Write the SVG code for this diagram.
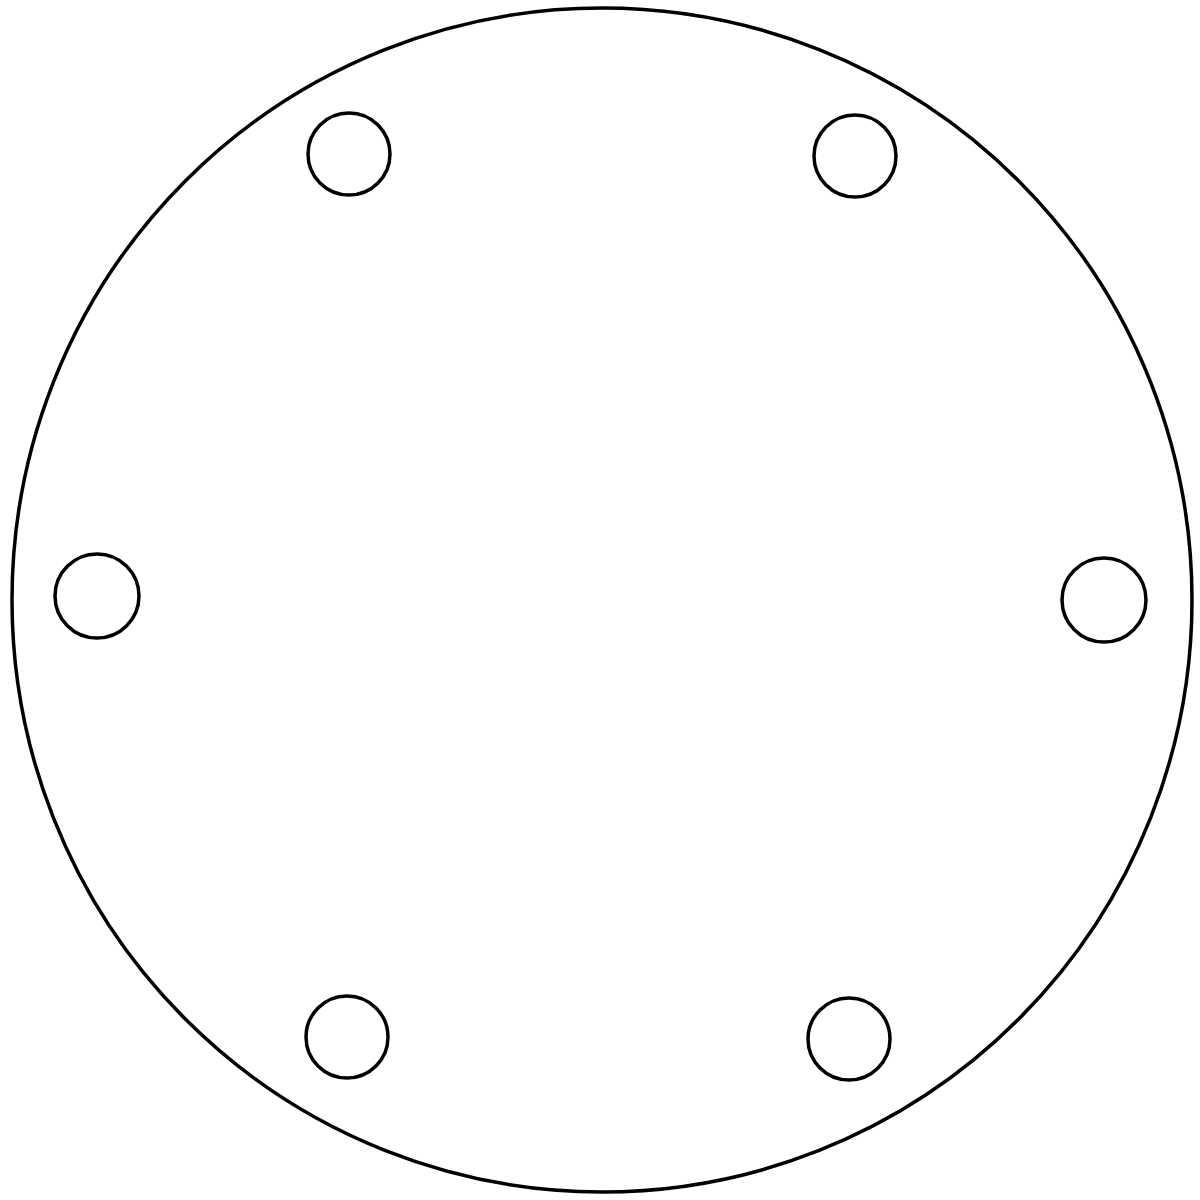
<svg xmlns="http://www.w3.org/2000/svg" width="1200" height="1200" viewBox="0 0 1200 1200">
<style>
.o{fill:none;stroke:#000;stroke-width:3.5}
.h{fill:none;stroke:#000;stroke-width:3.5}
</style>
<rect width="1200" height="1200" fill="#fff"/>
<g id="plate"><ellipse class="o" cx="602" cy="600" rx="590" ry="592"/></g>
<g id="hole1"><circle class="h" cx="349" cy="154" r="41"/></g>
<g id="hole2"><circle class="h" cx="855" cy="156" r="41"/></g>
<g id="hole3"><circle class="h" cx="97" cy="596" r="42"/></g>
<g id="hole4"><circle class="h" cx="1104" cy="600" r="42"/></g>
<g id="hole5"><circle class="h" cx="347" cy="1037" r="41"/></g>
<g id="hole6"><circle class="h" cx="849" cy="1039" r="41"/></g>
</svg>
